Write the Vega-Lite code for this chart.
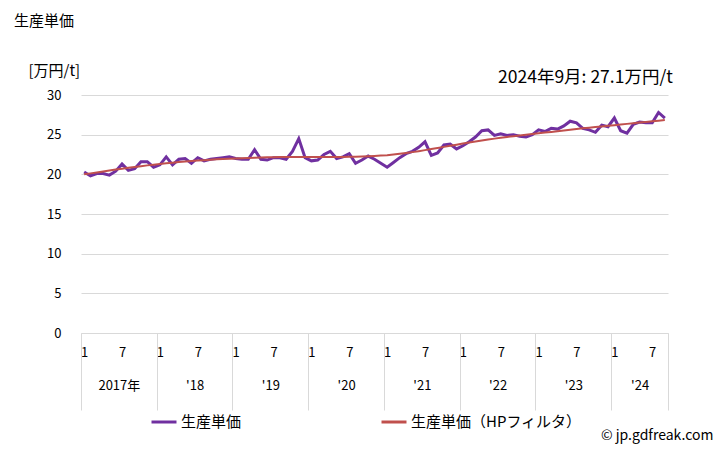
{
  "$schema": "https://vega.github.io/schema/vega-lite/v6.json",
  "width": 587,
  "height": 238,
  "autosize": {"type": "none"},
  "padding": {"left": 81, "top": 95, "right": 60, "bottom": 117},
  "background": "white",
  "config": {"font": "Noto Sans CJK JP", "view": {"stroke": null}},
  "title": {"text": "生産単価", "anchor": "start", "frame": "group", "dx": -67, "offset": 34, "fontSize": 15, "fontWeight": "normal", "color": "#000"},
  "datasets": {
    "raw": [
      {"i":0,"v":20.3},{"i":1,"v":19.8},{"i":2,"v":20.1},{"i":3,"v":20.1},{"i":4,"v":19.9},{"i":5,"v":20.4},
      {"i":6,"v":21.3},{"i":7,"v":20.5},{"i":8,"v":20.7},{"i":9,"v":21.6},{"i":10,"v":21.6},{"i":11,"v":20.9},
      {"i":12,"v":21.2},{"i":13,"v":22.2},{"i":14,"v":21.2},{"i":15,"v":21.9},{"i":16,"v":22.0},{"i":17,"v":21.4},
      {"i":18,"v":22.1},{"i":19,"v":21.7},{"i":20,"v":21.9},{"i":21,"v":22.0},{"i":22,"v":22.1},{"i":23,"v":22.2},
      {"i":24,"v":22.0},{"i":25,"v":21.9},{"i":26,"v":21.9},{"i":27,"v":23.1},{"i":28,"v":21.9},{"i":29,"v":21.8},
      {"i":30,"v":22.1},{"i":31,"v":22.1},{"i":32,"v":21.9},{"i":33,"v":22.9},{"i":34,"v":24.5},{"i":35,"v":22.1},
      {"i":36,"v":21.7},{"i":37,"v":21.8},{"i":38,"v":22.5},{"i":39,"v":22.9},{"i":40,"v":22.0},{"i":41,"v":22.2},
      {"i":42,"v":22.6},{"i":43,"v":21.4},{"i":44,"v":21.8},{"i":45,"v":22.3},{"i":46,"v":21.9},{"i":47,"v":21.4},
      {"i":48,"v":20.9},{"i":49,"v":21.5},{"i":50,"v":22.1},{"i":51,"v":22.6},{"i":52,"v":22.9},{"i":53,"v":23.4},
      {"i":54,"v":24.1},{"i":55,"v":22.4},{"i":56,"v":22.7},{"i":57,"v":23.7},{"i":58,"v":23.8},{"i":59,"v":23.2},
      {"i":60,"v":23.6},{"i":61,"v":24.1},{"i":62,"v":24.7},{"i":63,"v":25.5},{"i":64,"v":25.6},{"i":65,"v":24.9},
      {"i":66,"v":25.1},{"i":67,"v":24.9},{"i":68,"v":25.0},{"i":69,"v":24.8},{"i":70,"v":24.7},{"i":71,"v":25.0},
      {"i":72,"v":25.6},{"i":73,"v":25.4},{"i":74,"v":25.8},{"i":75,"v":25.7},{"i":76,"v":26.1},{"i":77,"v":26.7},
      {"i":78,"v":26.5},{"i":79,"v":25.8},{"i":80,"v":25.6},{"i":81,"v":25.3},{"i":82,"v":26.2},{"i":83,"v":26.0},
      {"i":84,"v":27.1},{"i":85,"v":25.5},{"i":86,"v":25.2},{"i":87,"v":26.3},{"i":88,"v":26.6},{"i":89,"v":26.5},
      {"i":90,"v":26.5},{"i":91,"v":27.8},{"i":92,"v":27.1}
    ],
    "hp": [
      {"i":0,"v":20.0},{"i":1,"v":20.12},{"i":2,"v":20.24},{"i":3,"v":20.36},{"i":4,"v":20.48},{"i":5,"v":20.6},
      {"i":6,"v":20.71},{"i":7,"v":20.82},{"i":8,"v":20.93},{"i":9,"v":21.03},{"i":10,"v":21.13},{"i":11,"v":21.22},
      {"i":12,"v":21.31},{"i":13,"v":21.39},{"i":14,"v":21.47},{"i":15,"v":21.54},{"i":16,"v":21.61},{"i":17,"v":21.67},
      {"i":18,"v":21.73},{"i":19,"v":21.79},{"i":20,"v":21.84},{"i":21,"v":21.89},{"i":22,"v":21.93},{"i":23,"v":21.97},
      {"i":24,"v":22.01},{"i":25,"v":22.04},{"i":26,"v":22.07},{"i":27,"v":22.1},{"i":28,"v":22.12},{"i":29,"v":22.14},
      {"i":30,"v":22.16},{"i":31,"v":22.17},{"i":32,"v":22.18},{"i":33,"v":22.19},{"i":34,"v":22.2},{"i":35,"v":22.2},
      {"i":36,"v":22.2},{"i":37,"v":22.2},{"i":38,"v":22.2},{"i":39,"v":22.2},{"i":40,"v":22.2},{"i":41,"v":22.2},
      {"i":42,"v":22.21},{"i":43,"v":22.22},{"i":44,"v":22.24},{"i":45,"v":22.27},{"i":46,"v":22.31},{"i":47,"v":22.36},
      {"i":48,"v":22.42},{"i":49,"v":22.5},{"i":50,"v":22.59},{"i":51,"v":22.69},{"i":52,"v":22.8},{"i":53,"v":22.92},
      {"i":54,"v":23.05},{"i":55,"v":23.18},{"i":56,"v":23.32},{"i":57,"v":23.46},{"i":58,"v":23.6},{"i":59,"v":23.74},
      {"i":60,"v":23.88},{"i":61,"v":24.01},{"i":62,"v":24.14},{"i":63,"v":24.27},{"i":64,"v":24.39},{"i":65,"v":24.5},
      {"i":66,"v":24.61},{"i":67,"v":24.71},{"i":68,"v":24.81},{"i":69,"v":24.9},{"i":70,"v":24.99},{"i":71,"v":25.08},
      {"i":72,"v":25.17},{"i":73,"v":25.26},{"i":74,"v":25.35},{"i":75,"v":25.44},{"i":76,"v":25.53},{"i":77,"v":25.62},
      {"i":78,"v":25.71},{"i":79,"v":25.8},{"i":80,"v":25.88},{"i":81,"v":25.96},{"i":82,"v":26.04},{"i":83,"v":26.12},
      {"i":84,"v":26.2},{"i":85,"v":26.28},{"i":86,"v":26.36},{"i":87,"v":26.44},{"i":88,"v":26.52},{"i":89,"v":26.6},
      {"i":90,"v":26.68},{"i":91,"v":26.76},{"i":92,"v":26.84}
    ],
    "note": [
      {"i": 92, "v": 30, "label": "2024年9月: 27.1万円/t"}
    ]
  },
  "layer": [
    {
      "data": {"name": "raw"},
      "mark": {"type": "line", "strokeWidth": 3},
      "encoding": {
        "x": {
          "field": "i", "type": "quantitative",
          "scale": {"domain": [-0.5, 92.5], "nice": false, "zero": false},
          "axis": {
            "orient": "bottom", "values": [0,6,12,18,24,30,36,42,48,54,60,66,72,78,84,90],
            "labelExpr": "datum.value % 12 == 0 ? '1' : '7'",
            "grid": false, "ticks": false, "domain": true, "domainColor": "#d9d9d9",
            "labelPadding": 13, "labelFontSize": 13, "labelColor": "#000",
            "labelFlush": false, "labelOverlap": false, "title": null
          }
        },
        "y": {
          "field": "v", "type": "quantitative",
          "scale": {"domain": [0, 30], "nice": false, "zero": true},
          "axis": {
            "values": [0,5,10,15,20,25,30], "grid": true, "gridColor": "#d9d9d9",
            "domain": false, "ticks": false, "labelPadding": 20, "labelFontSize": 13, "labelColor": "#000",
            "title": "[万円/t]", "titleAngle": 0, "titleX": -53, "titleY": -25,
            "titleAlign": "left", "titleBaseline": "middle", "titleFontSize": 15,
            "titleFontWeight": "normal", "titleColor": "#000"
          }
        },
        "color": {
          "datum": "生産単価",
          "scale": {"domain": ["生産単価", "生産単価（HPフィルタ）"], "range": ["#7030A0", "#C0504D"]},
          "legend": {
            "orient": "none", "legendX": 69, "legendY": 313, "direction": "horizontal",
            "title": null, "symbolType": "stroke", "symbolSize": 625, "symbolStrokeWidth": 3,
            "labelFontSize": 15, "labelColor": "#000", "columnPadding": 133, "labelOffset": 3,
            "labelLimit": 400
          }
        }
      }
    },
    {
      "data": {"name": "hp"},
      "mark": {"type": "line", "strokeWidth": 2},
      "encoding": {
        "x": {
          "field": "i", "type": "quantitative",
          "axis": {
            "orient": "bottom", "values": [-0.5, 11.5, 23.5, 35.5, 47.5, 59.5, 71.5, 83.5, 92.5],
            "labels": false, "ticks": true, "tickSize": 77, "tickColor": "#d9d9d9",
            "domain": false, "grid": false, "title": null
          }
        },
        "y": {"field": "v", "type": "quantitative", "axis": null},
        "color": {"datum": "生産単価（HPフィルタ）"}
      }
    },
    {
      "data": {"name": "note"},
      "mark": {"type": "text", "align": "right", "baseline": "middle", "dx": 8, "dy": -17, "fontSize": 17.5, "color": "#000"},
      "encoding": {
        "x": {
          "field": "i", "type": "quantitative",
          "axis": {
            "orient": "bottom", "values": [5.5, 17.5, 29.5, 41.5, 53.5, 65.5, 77.5, 88],
            "labelExpr": "datum.value < 12 ? '2017年' : \"'\" + (17 + floor(datum.value / 12))",
            "ticks": false, "domain": false, "grid": false, "labelPadding": 46,
            "labelFontSize": 13, "labelColor": "#000", "labelFlush": false, "labelOverlap": false,
            "title": "© jp.gdfreak.com", "titleX": 632, "titleY": 102, "titleAlign": "right",
            "titleBaseline": "middle", "titleFontSize": 14, "titleFontWeight": "normal", "titleColor": "#000"
          }
        },
        "y": {"field": "v", "type": "quantitative", "axis": null},
        "text": {"field": "label"}
      }
    }
  ],
  "resolve": {"axis": {"x": "independent", "y": "independent"}}
}
